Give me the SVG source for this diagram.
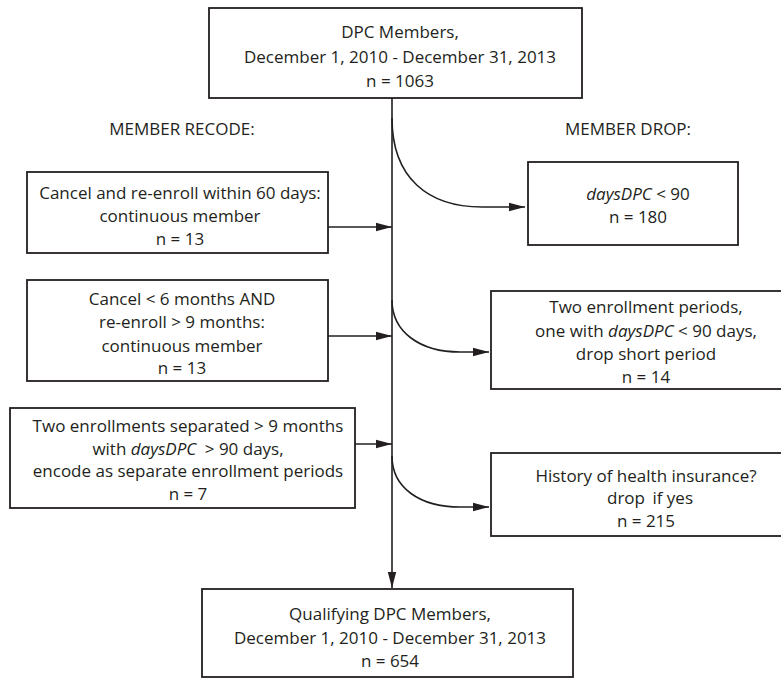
<svg xmlns="http://www.w3.org/2000/svg" width="781" height="681" viewBox="0 0 781 681">
<style>
.box{fill:#fff;stroke:#231f20;stroke-width:1.8}
.t{font-family:"Open Sans","Liberation Sans",Arial,sans-serif;font-size:17px;fill:#231f20;text-anchor:middle}
.i{font-style:italic}
.c{fill:none;stroke:#231f20;stroke-width:1.6}
</style>
<defs>
<marker id="ah" markerUnits="userSpaceOnUse" markerWidth="17" markerHeight="10" refX="16" refY="5" orient="auto">
<path d="M0,0.8 L16,5 L0,9.2 Z" fill="#231f20"/>
</marker>
</defs>
<rect width="781" height="681" fill="#fff"/>
<g id="connectors">
<line class="c" x1="392" y1="98" x2="392" y2="588" marker-end="url(#ah)"/>
<line class="c" x1="328" y1="227" x2="392" y2="227" marker-end="url(#ah)"/>
<line class="c" x1="328" y1="336" x2="392" y2="336" marker-end="url(#ah)"/>
<line class="c" x1="355" y1="444" x2="392" y2="444" marker-end="url(#ah)"/>
<path class="c" d="M392,118 C392,178 428,207 482,207 L525,207" marker-end="url(#ah)"/>
<path class="c" d="M392,300 C392,332 420,352 460,352 L489,352" marker-end="url(#ah)"/>
<path class="c" d="M392,456 C392,488 420,507 460,507 L489,507" marker-end="url(#ah)"/>
</g>
<g id="start">
<rect class="box" x="209" y="8" width="373" height="90"/>
<text class="t" x="400" y="38">DPC Members,</text>
<text class="t" x="400" y="63">December 1, 2010 - December 31, 2013</text>
<text class="t" x="400" y="87">n = 1063</text>
</g>
<g id="label-recode"><text class="t" x="182" y="135">MEMBER RECODE:</text></g>
<g id="label-drop"><text class="t" x="628" y="135">MEMBER DROP:</text></g>
<g id="recode1">
<rect class="box" x="27" y="172" width="301" height="81"/>
<text class="t" x="180" y="199">Cancel and re-enroll within 60 days:</text>
<text class="t" x="180" y="222">continuous member</text>
<text class="t" x="180" y="245">n = 13</text>
</g>
<g id="recode2">
<rect class="box" x="27" y="280" width="301" height="101"/>
<text class="t" x="182" y="305">Cancel &lt; 6 months AND</text>
<text class="t" x="182" y="328">re-enroll &gt; 9 months:</text>
<text class="t" x="182" y="352">continuous member</text>
<text class="t" x="182" y="374">n = 13</text>
</g>
<g id="recode3">
<rect class="box" x="10" y="408" width="345" height="100"/>
<text class="t" x="188" y="432">Two enrollments separated &gt; 9 months</text>
<text class="t" x="188" y="455">with <tspan class="i">daysDPC</tspan> <tspan dx="4">&gt; 90 days,</tspan></text>
<text class="t" x="188" y="477">encode as separate enrollment periods</text>
<text class="t" x="188" y="500">n = 7</text>
</g>
<g id="drop1">
<rect class="box" x="528" y="162" width="210" height="83"/>
<text class="t" x="638" y="200"><tspan class="i">daysDPC</tspan> &lt; 90</text>
<text class="t" x="638" y="223">n = 180</text>
</g>
<g id="drop2">
<rect class="box" x="491" y="291" width="300" height="98"/>
<text class="t" x="646" y="313">Two enrollment periods,</text>
<text class="t" x="646" y="337">one with <tspan class="i">daysDPC</tspan> &lt; 90 days,</text>
<text class="t" x="646" y="360">drop short period</text>
<text class="t" x="646" y="383">n = 14</text>
</g>
<g id="drop3">
<rect class="box" x="491" y="453" width="300" height="83"/>
<text class="t" x="646" y="482">History of health insurance?</text>
<text class="t" x="650" y="504">drop <tspan dx="3">if yes</tspan></text>
<text class="t" x="646" y="527">n = 215</text>
</g>
<g id="end">
<rect class="box" x="202" y="589" width="371" height="88"/>
<text class="t" x="390" y="620">Qualifying DPC Members,</text>
<text class="t" x="390" y="644">December 1, 2010 - December 31, 2013</text>
<text class="t" x="390" y="667">n = 654</text>
</g>
</svg>
